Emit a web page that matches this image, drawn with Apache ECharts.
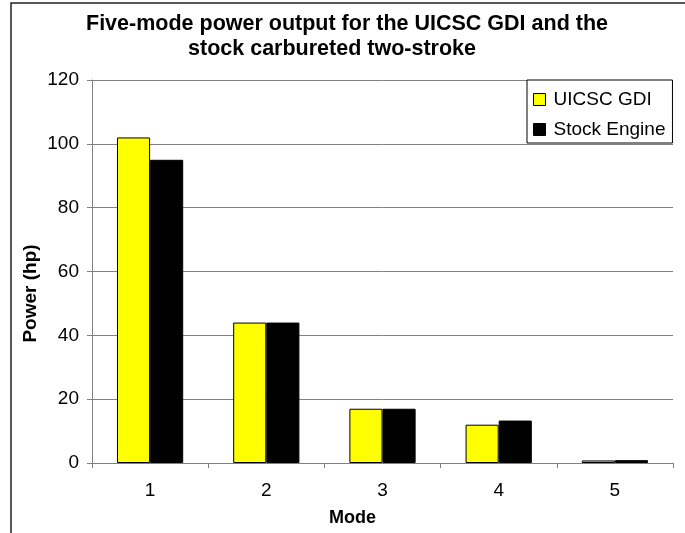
<!DOCTYPE html>
<html>
<head>
<meta charset="utf-8">
<script src="https://cdn.jsdelivr.net/npm/echarts@6/dist/echarts.min.js"></script>
<style>html,body{margin:0;padding:0;background:#fff}#c{width:685px;height:533px}</style>
</head>
<body>
<div id="c"></div>
<script>
const modes = ['1', '2', '3', '4', '5'];
const uicscGdi = [102, 44, 17, 12, 0.8];
const stockEngine = [95, 44, 17, 13.3, 0.9];
const seriesNames = ['UICSC GDI', 'Stock Engine'];
const titleLines = ['Five-mode power output for the UICSC GDI and the', 'stock carbureted two-stroke'];

const FONT = 'Liberation Sans, Arial, sans-serif';
const titleStyle = {fontFamily: FONT, fontSize: 21.5, fontWeight: 'bold', color: '#000'};
const chart = echarts.init(document.getElementById('c'), null, {renderer: 'canvas'});
chart.setOption({
  animation: false,
  backgroundColor: '#fff',
  textStyle: {fontFamily: FONT},
  title: [
    {text: titleLines[0], left: 347, top: 13, textAlign: 'center', padding: 0, textStyle: titleStyle},
    {text: titleLines[1], left: 332, top: 38, textAlign: 'center', padding: 0, textStyle: titleStyle}
  ],
  graphic: [{
    type: 'rect',
    shape: {x: 11, y: 3, width: 720, height: 600},
    style: {fill: 'none', stroke: '#222', lineWidth: 1.5},
    silent: true
  }],
  legend: {
    orient: 'vertical',
    left: 527,
    top: 80,
    padding: [10, 7, 4, 6],
    itemGap: 11,
    itemWidth: 12,
    itemHeight: 12,
    backgroundColor: '#fff',
    borderColor: '#000',
    borderWidth: 1,
    icon: 'rect',
    itemStyle: {borderColor: '#000', borderWidth: 1},
    textStyle: {fontFamily: FONT, fontSize: 19, color: '#000', padding: [0, 0, 0, 3]},
    data: seriesNames
  },
  grid: {left: 92, right: 12, top: 80, bottom: 70, containLabel: false},
  xAxis: {
    type: 'category',
    data: modes,
    name: 'Mode',
    nameLocation: 'middle',
    nameGap: 46,
    nameMoveOverlap: false,
    nameTextStyle: {fontFamily: FONT, fontSize: 18, fontWeight: 'bold', color: '#000', padding: [0, 60, 0, 0]},
    axisLine: {lineStyle: {color: '#808080', width: 1}},
    axisTick: {show: true, length: 5, lineStyle: {color: '#808080'}},
    axisLabel: {fontFamily: FONT, fontSize: 19, color: '#000', margin: 18},
    splitLine: {show: false}
  },
  yAxis: {
    type: 'value',
    min: 0,
    max: 120,
    interval: 20,
    name: 'Power (hp)',
    nameLocation: 'middle',
    nameGap: 52,
    nameMoveOverlap: false,
    nameRotate: 90,
    nameTextStyle: {fontFamily: FONT, fontSize: 19, fontWeight: 'bold', color: '#000', padding: [0, 44, 0, 0]},
    axisLine: {show: true, lineStyle: {color: '#808080', width: 1}},
    axisTick: {show: true, length: 5, lineStyle: {color: '#808080'}},
    axisLabel: {fontFamily: FONT, fontSize: 19, color: '#000', margin: 13},
    splitLine: {show: true, lineStyle: {color: '#808080', width: 1}}
  },
  series: [
    {
      name: seriesNames[0],
      type: 'bar',
      data: uicscGdi,
      barGap: '0%',
      barCategoryGap: '43%',
      itemStyle: {color: '#FFFF00', borderColor: '#000', borderWidth: 1}
    },
    {
      name: seriesNames[1],
      type: 'bar',
      data: stockEngine,
      barGap: '0%',
      barCategoryGap: '43%',
      itemStyle: {color: '#000000', borderColor: '#000', borderWidth: 1}
    }
  ]
});
</script>
</body>
</html>
